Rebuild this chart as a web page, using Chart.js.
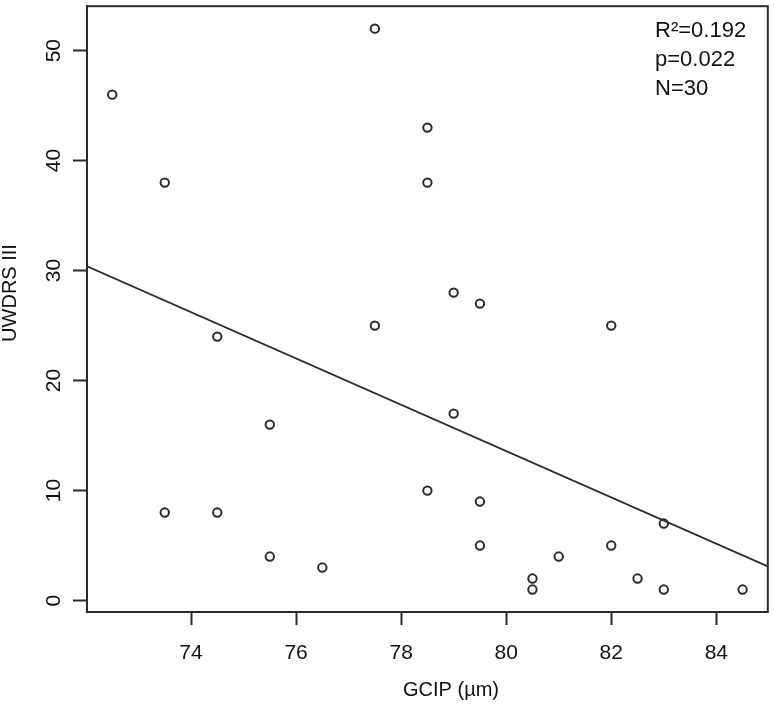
<!DOCTYPE html>
<html>
<head>
<meta charset="utf-8">
<script src="https://cdn.jsdelivr.net/npm/chart.js@4/dist/chart.umd.min.js"></script>
<style>
  html, body { margin: 0; padding: 0; background: #fff; }
  #wrap { width: 774px; height: 705px; }
</style>
</head>
<body>
<div id="wrap"><canvas id="c" width="774" height="705"></canvas></div>
<script>
// ---- data ----
const gcip  = [72.5, 73.5, 73.5, 74.5, 74.5, 75.5, 75.5, 76.5, 77.5, 77.5, 78.5, 78.5, 78.5, 79.0, 79.0, 79.5, 79.5, 79.5, 80.5, 80.5, 81.0, 82.0, 82.0, 82.5, 83.0, 83.0, 84.5];
const uwdrs = [46,   38,   8,    24,   8,    16,   4,    3,    52,   25,   43,   38,   10,   28,   17,   27,   9,    5,    2,    1,    4,    25,   5,    2,    7,    1,    1];
const fitX = [72.02, 84.98];
const fitY = [30.4, 3.1];
const xTicks = [74, 76, 78, 80, 82, 84];
const yTicks = [0, 10, 20, 30, 40, 50];
const xTitle = 'GCIP (µm)';
const yTitle = 'UWDRS III';
const statsText = ['R²=0.192', 'p=0.022', 'N=30'];
const xRange = [72.02, 84.98];
const yRange = [-1.04, 54.04];

const FONT = "'Liberation Sans', Arial, Helvetica, sans-serif";
const INK = '#2a2a2a';
const TXT = '#111';

const scatterPts = gcip.map((x, i) => ({ x: x, y: uwdrs[i] }));
const fitPts = fitX.map((x, i) => ({ x: x, y: fitY[i] }));

const rStyle = {
  id: 'rStyle',
  afterDraw(chart) {
    const ctx = chart.ctx;
    const a = chart.chartArea;
    const xs = chart.scales.x, ys = chart.scales.y;
    ctx.save();
    // plot box
    ctx.strokeStyle = INK;
    ctx.lineWidth = 2;
    ctx.strokeRect(a.left, a.top, a.right - a.left, a.bottom - a.top);
    ctx.fillStyle = TXT;
    // x tick labels
    ctx.font = '21px ' + FONT;
    ctx.textAlign = 'center';
    ctx.textBaseline = 'middle';
    xTicks.forEach(v => {
      ctx.fillText(String(v), xs.getPixelForValue(v), 653);
    });
    // y tick labels (rotated, R style)
    yTicks.forEach(v => {
      ctx.save();
      ctx.translate(54, ys.getPixelForValue(v));
      ctx.rotate(-Math.PI / 2);
      ctx.fillText(String(v), 0, 0);
      ctx.restore();
    });
    // axis titles
    ctx.font = '20px ' + FONT;
    ctx.fillText(xTitle, 451, 690);
    ctx.save();
    ctx.translate(10, 293);
    ctx.rotate(-Math.PI / 2);
    ctx.fillText(yTitle, 0, 0);
    ctx.restore();
    // stats annotation
    ctx.font = '22px ' + FONT;
    ctx.textAlign = 'left';
    ctx.textBaseline = 'alphabetic';
    statsText.forEach((t, i) => {
      ctx.fillText(t, 655, 37 + i * 29);
    });
    ctx.restore();
  }
};

new Chart(document.getElementById('c'), {
  type: 'scatter',
  data: {
    datasets: [
      {
        label: 'points',
        data: scatterPts,
        pointStyle: 'circle',
        pointRadius: 4.2,
        pointHoverRadius: 4.2,
        pointBorderWidth: 2,
        pointBorderColor: INK,
        pointBackgroundColor: 'rgba(0,0,0,0)',
        showLine: false
      },
      {
        label: 'fit',
        data: fitPts,
        showLine: true,
        pointRadius: 0,
        borderColor: INK,
        borderWidth: 1.8,
        fill: false
      }
    ]
  },
  options: {
    responsive: false,
    animation: false,
    events: [],
    layout: { padding: { top: 4, right: 5, left: 0, bottom: 0 } },
    plugins: { legend: { display: false }, tooltip: { enabled: false } },
    scales: {
      x: {
        type: 'linear',
        min: xRange[0], max: xRange[1],
        afterBuildTicks: s => { s.ticks = xTicks.map(v => ({ value: v })); },
        afterFit: s => { s.height = 93; },
        ticks: { display: false },
        grid: { drawOnChartArea: false, drawTicks: true, tickLength: 13, tickColor: INK, tickWidth: 2 },
        border: { display: true, color: INK, width: 2 }
      },
      y: {
        type: 'linear',
        min: yRange[0], max: yRange[1],
        afterBuildTicks: s => { s.ticks = yTicks.map(v => ({ value: v })); },
        afterFit: s => { s.width = 87; },
        ticks: { display: false },
        grid: { drawOnChartArea: false, drawTicks: true, tickLength: 14, tickColor: INK, tickWidth: 2 },
        border: { display: true, color: INK, width: 2 }
      }
    }
  },
  plugins: [rStyle]
});
</script>
</body>
</html>
